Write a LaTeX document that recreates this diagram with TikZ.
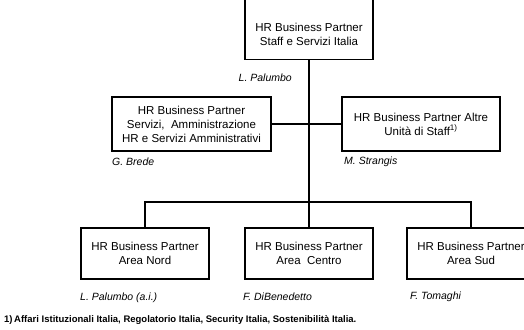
\documentclass[tikz,border=0pt]{standalone}
\usepackage{fontspec}
\setmainfont{Liberation Sans}
\begin{document}
\begin{tikzpicture}[x=1pt,y=-1pt,
  orgbox/.style={draw, line width=1.5pt, minimum width=128pt, minimum height=51pt,
    inner sep=0pt, align=center, font=\fontsize{11.5}{14}\selectfont},
  boxtext/.style={inner sep=0pt, align=center, font=\fontsize{11.5}{14}\selectfont},
  person/.style={anchor=west, inner sep=0pt, font=\fontsize{10.5}{12}\selectfont\itshape},
  link/.style={line width=1.5pt}]
\useasboundingbox (0,0) rectangle (524,329);
\clip (0,0) rectangle (524,329);

% head of the unit
\node[orgbox, minimum height=72pt, anchor=south] (top) at (309,60) {};
\node[boxtext] (toptext) at (309,34) {HR Business Partner\\Staff e Servizi Italia};
\node[person, anchor=east] (nTop) at (292,78) {L. Palumbo};

% second level
\node[orgbox, minimum width=159pt, minimum height=54pt] (svc) at (191.5,124)
  {HR Business Partner\\Servizi,\ \ Amministrazione\\HR e Servizi Amministrativi};
\node[orgbox, minimum width=158pt, minimum height=54pt] (staff) at (421,124)
  {HR Business Partner Altre\\Unità di Staff\textsuperscript{1)}};
\node[person] (nSvc) at (112,162) {G. Brede};
\node[person] (nStaff) at (344,162) {M. Strangis};

% area partners
\node[orgbox] (nord) at (145,253.5) {HR Business Partner\\Area Nord};
\node[orgbox] (centro) at (309,253.5) {HR Business Partner\\Area\ \ Centro};
\node[orgbox] (sud) at (471,253.5) {HR Business Partner\\Area Sud};
\node[person] (nNord) at (80,298) {L. Palumbo (a.i.)};
\node[person] (nCentro) at (243,297) {F. DiBenedetto};
\node[person] (nSud) at (410,297) {F. Tomaghi};

% connectors
\coordinate (bus) at (309,202);
\draw[link] (top.south) -- (bus);
\draw[link] (svc.east) -- (staff.west);
\draw[link] (nord.north) |- (bus) -| (sud.north);
\draw[link] (bus) -- (centro.north);

% footnote
\node[anchor=west, inner sep=0pt, font=\fontsize{9.5}{11}\selectfont\bfseries] (note) at (4,320)
  {1)\,Affari Istituzionali Italia, Regolatorio Italia, Security Italia, Sostenibilità Italia.};
\end{tikzpicture}
\end{document}
